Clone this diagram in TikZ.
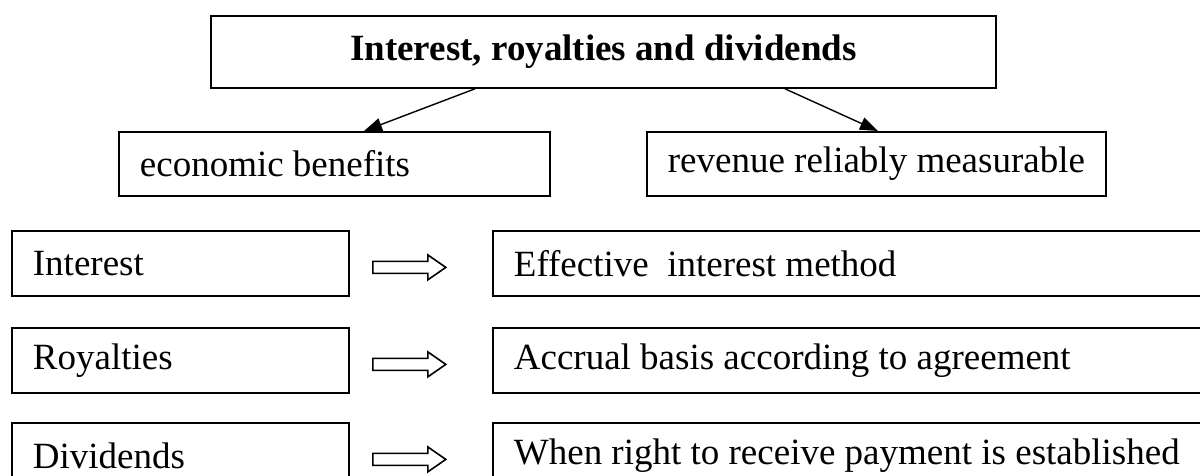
\documentclass[tikz,border=0pt]{standalone}
\usepackage{fontspec}
\setmainfont{Liberation Serif}
\usetikzlibrary{arrows.meta,calc}

\begin{document}
\begin{tikzpicture}[x=0.5pt,y=-0.5pt,
  box/.style={draw, line width=0.9pt, anchor=north west, inner ysep=0pt,
    font=\fontsize{18.5pt}{22pt}\selectfont},
  lbox/.style={box, inner xsep=0pt, align=flush left},
  link/.style={line width=0.7pt, -{Triangle[length=9pt,width=6.5pt]}},
  blk/.style={draw, line width=0.8pt, line join=miter}]
\useasboundingbox (0,0) rectangle (1200,476);
\clip (0,0) rectangle (1200,476);

% heading
\node[box, minimum width=392.5pt, minimum height=36pt, font=\fontsize{18.5pt}{22pt}\selectfont\bfseries]
  (top) at (210,15) {Interest, royalties and dividends};

% recognition conditions
\node[lbox, text width=215.5pt, minimum height=32pt] (eb) at (118,131) {\hspace*{10.5pt}economic benefits};
\node[lbox, text width=229.5pt, minimum height=32pt] (rb) at (646,131) {\hspace*{10.5pt}revenue reliably measurable};

\draw[link] ([xshift=132.5pt]top.south west) -- ([xshift=123pt]eb.north west);
\draw[link] ([xshift=287.5pt]top.south west) -- ([xshift=116pt]rb.north west);

% income types
\node[lbox, text width=168.5pt, minimum height=32.5pt] (int) at (11,230) {\hspace*{10.5pt}Interest};
\node[lbox, text width=168.5pt, minimum height=32.5pt] (roy) at (11,327) {\hspace*{10.5pt}Royalties};
\node[lbox, text width=168.5pt, minimum height=32.5pt] (div) at (11,422) {\hspace*{10.5pt}Dividends};

% recognition bases
\node[lbox, text width=357pt, minimum height=32.5pt] (eff) at (492,230) {\hspace*{10.5pt}Effective~~interest method};
\node[lbox, text width=357pt, minimum height=32.5pt] (acc) at (492,327) {\hspace*{10.5pt}Accrual basis according to agreement};
\node[lbox, text width=357pt, minimum height=32.5pt] (when) at (492,422) {\hspace*{10.5pt}When right to receive payment is established};

% hollow block arrows between the columns
\foreach \r in {int,roy,div}{
  \draw[blk] ($(\r.east)+(23,-2)$) -- ++(55,0) -- ++(0,-6.5) -- ++(18,12.5)
    -- ++(-18,12.5) -- ++(0,-6.5) -- ++(-55,0) -- cycle;
}
\end{tikzpicture}
\end{document}
